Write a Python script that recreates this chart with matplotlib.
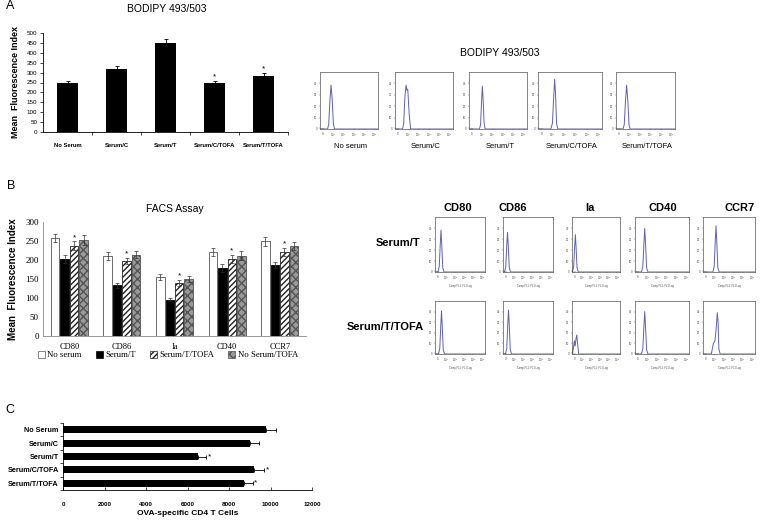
import matplotlib.pyplot as plt
from matplotlib.patches import Patch

plt.rcParams['font.family'] = ['Liberation Sans', 'DejaVu Sans']

W, H = 761, 520
fig = plt.figure(figsize=(W / 100, H / 100), dpi=100)


def box(l, t, r, b):
    return [l / W, 1 - b / H, (r - l) / W, (b - t) / H]


def ftxt(x, y, s, **kw):
    fig.text(x / W, 1 - y / H, s, **kw)


# ---- data ----
a_groups = ['No Serum', 'Serum/C', 'Serum/T', 'Serum/C/TOFA', 'Serum/T/TOFA']
a_mfi = [250, 320, 450, 245, 285]
a_err = [10, 15, 20, 12, 12]
a_star = [0, 0, 0, 1, 1]

a_hist_names = ['No serum', 'Serum/C', 'Serum/T', 'Serum/C/TOFA', 'Serum/T/TOFA']
a_hist_x = [
    [0, 0.13, 0.15, 0.17, 0.19, 0.21, 0.23, 0.25, 1],
    [0, 0.13, 0.15, 0.17, 0.19, 0.205, 0.22, 0.245, 0.27, 1],
    [0, 0.18, 0.20, 0.215, 0.23, 0.245, 0.26, 0.28, 1],
    [0, 0.20, 0.225, 0.245, 0.26, 0.275, 0.29, 0.31, 1],
    [0, 0.12, 0.14, 0.16, 0.18, 0.20, 0.22, 0.24, 1],
]
a_hist_y = [
    [0, 0, 0.08, 0.48, 0.77, 0.52, 0.1, 0, 0],
    [0, 0, 0.1, 0.55, 0.77, 0.68, 0.7, 0.25, 0, 0],
    [0, 0, 0.08, 0.45, 0.75, 0.5, 0.1, 0, 0],
    [0, 0, 0.1, 0.55, 0.87, 0.6, 0.1, 0, 0],
    [0, 0, 0.08, 0.48, 0.77, 0.5, 0.08, 0, 0],
]

b_markers = ['CD80', 'CD86', 'Ia', 'CD40', 'CCR7']
b_series = ['No serum', 'Serum/T', 'Serum/T/TOFA', 'No Serum/TOFA']
b_mfi = [
    [258, 210, 156, 221, 249],
    [203, 133, 96, 179, 188],
    [237, 197, 140, 203, 221],
    [252, 214, 151, 211, 237],
]
b_err = [
    [10, 10, 8, 10, 12],
    [10, 7, 5, 10, 8],
    [12, 8, 8, 10, 10],
    [13, 10, 8, 12, 10],
]
b_star = [0, 0, 1, 0]

b_rows = ['Serum/T', 'Serum/T/TOFA']
b_hist_x = [
    [[0, 0.06, 0.085, 0.105, 0.12, 0.135, 0.155, 0.18, 1],
     [0, 0.03, 0.055, 0.075, 0.09, 0.105, 0.125, 0.15, 1],
     [0, 0.01, 0.035, 0.055, 0.07, 0.085, 0.105, 0.13, 1],
     [0, 0.12, 0.145, 0.165, 0.18, 0.195, 0.215, 0.24, 1],
     [0, 0.19, 0.215, 0.235, 0.25, 0.265, 0.285, 0.31, 1]],
    [[0, 0.07, 0.095, 0.115, 0.13, 0.145, 0.165, 0.19, 1],
     [0, 0.05, 0.075, 0.095, 0.11, 0.125, 0.145, 0.17, 1],
     [0, 0.01, 0.03, 0.05, 0.065, 0.085, 0.1, 0.115, 0.14, 1],
     [0, 0.12, 0.145, 0.165, 0.18, 0.195, 0.215, 0.24, 1],
     [0, 0.16, 0.2, 0.23, 0.255, 0.275, 0.29, 0.305, 0.33, 1]],
]
b_hist_y = [
    [[0, 0, 0.1, 0.5, 0.76, 0.5, 0.08, 0, 0],
     [0, 0, 0.1, 0.48, 0.72, 0.48, 0.08, 0, 0],
     [0, 0, 0.1, 0.45, 0.68, 0.45, 0.08, 0, 0],
     [0, 0, 0.1, 0.52, 0.79, 0.52, 0.08, 0, 0],
     [0, 0, 0.1, 0.55, 0.84, 0.55, 0.08, 0, 0]],
    [[0, 0, 0.1, 0.52, 0.81, 0.52, 0.08, 0, 0],
     [0, 0, 0.1, 0.55, 0.83, 0.55, 0.08, 0, 0],
     [0, 0, 0.12, 0.25, 0.15, 0.3, 0.36, 0.2, 0, 0],
     [0, 0, 0.1, 0.52, 0.8, 0.52, 0.08, 0, 0],
     [0, 0, 0.2, 0.25, 0.5, 0.78, 0.6, 0.1, 0, 0]],
]

c_groups = ['No Serum', 'Serum/C', 'Serum/T', 'Serum/C/TOFA', 'Serum/T/TOFA']
c_cells = [9800, 9000, 6500, 9200, 8700]
c_err = [450, 450, 400, 500, 450]
c_star = [0, 0, 1, 1, 1]

hist_ticks = [0.05, 0.22, 0.4, 0.58, 0.76, 0.94]
hist_tlabels = ['0', '10$^1$', '10$^2$', '10$^3$', '10$^4$', '10$^5$']


def draw_hist(rect, xs, ys, xlabel=None):
    ax = fig.add_axes(rect)
    ax.plot(xs, ys, color='#6060b0', lw=0.7)
    ax.plot([0.01, 0.06], [0.005, 0.005], color='black', lw=1.0)
    ax.set_xlim(0, 1)
    ax.set_ylim(0, 1)
    ax.set_xticks(hist_ticks)
    ax.set_xticklabels(hist_tlabels)
    ax.set_yticks([0.01, 0.2, 0.4, 0.6, 0.8])
    ax.set_yticklabels(['0', '10', '20', '30', '40'])
    ax.tick_params(labelsize=2, length=1, width=0.3, pad=1, colors='#444444')
    for s in ax.spines.values():
        s.set_linewidth(0.5)
        s.set_color('#555555')
    if xlabel:
        ax.set_xlabel(xlabel, fontsize=1.8, labelpad=1, color='#444444')
    return ax


# ---- A: bar chart ----
ax = fig.add_axes(box(43, 33, 288, 132))
pos = range(len(a_groups))
ax.bar(pos, a_mfi, width=0.43, color='black')
ax.errorbar(pos, a_mfi, yerr=[[0] * 5, a_err], fmt='none', ecolor='black',
            elinewidth=0.6, capsize=1.5, capthick=0.6)
for i, s in enumerate(a_star):
    if s:
        ax.text(i, a_mfi[i] + a_err[i] + 2, '*', ha='center', va='bottom', fontsize=6)
ax.set_xlim(-0.5, 4.5)
ax.set_ylim(0, 500)
ax.set_yticks(range(0, 501, 50))
ax.set_xticks(list(pos))
ax.set_xticklabels(a_groups, fontsize=4.2, fontweight='bold')
ax.set_xticks([i + 0.5 for i in range(5)], minor=True)
ax.tick_params(axis='x', which='major', length=0, pad=8)
ax.tick_params(axis='x', which='minor', length=2, width=0.5)
ax.tick_params(axis='y', labelsize=4.5, length=2, width=0.5, pad=2)
for s in ['top', 'right']:
    ax.spines[s].set_visible(False)
for s in ['left', 'bottom']:
    ax.spines[s].set_linewidth(0.6)
ax.set_ylabel('Mean  Fluorescence Index', fontsize=6.5, fontweight='bold', labelpad=5)
ftxt(167, 9, 'BODIPY 493/503', fontsize=7.5, ha='center', va='center')
ftxt(6, 6, 'A', fontsize=9, va='center')

# ---- A: histograms ----
ftxt(500, 53, 'BODIPY 493/503', fontsize=7.5, ha='center', va='center')
a_boxes = [(320, 378), (395, 453), (469, 527), (538, 602), (616, 675)]
for k, (l, r) in enumerate(a_boxes):
    draw_hist(box(l, 72, r, 129), a_hist_x[k], a_hist_y[k])
    ftxt((l + r) / 2 + 2, 147, a_hist_names[k], fontsize=5.5, ha='center', va='center')

# ---- B: grouped bars ----
ax = fig.add_axes(box(43, 222, 306, 336))
faces = ['white', 'black', 'white', '#9a9a9a']
hatches = [None, None, '//////', 'xxxx']
edges = ['#555555', 'black', '#222222', '#555555']
offs = [-0.27, -0.09, 0.09, 0.27]
for j in range(4):
    xs = [i + offs[j] for i in range(5)]
    ax.bar(xs, b_mfi[j], width=0.16, color=faces[j], hatch=hatches[j],
           edgecolor=edges[j], linewidth=0.6, label=b_series[j])
    ax.errorbar(xs, b_mfi[j], yerr=b_err[j], fmt='none', ecolor='#333333',
                elinewidth=0.5, capsize=1.5, capthick=0.5)
    if b_star[j]:
        for i, x in enumerate(xs):
            ax.text(x, b_mfi[j][i] + b_err[j][i] + 1, '*', ha='center', va='bottom',
                    fontsize=6)
ax.set_xlim(-0.5, 4.5)
ax.set_ylim(0, 300)
ax.set_yticks(range(0, 301, 50))
ax.set_xticks(range(5))
ax.set_xticklabels(b_markers, family='Liberation Serif', fontsize=6)
ax.tick_params(axis='x', length=0, pad=5)
ax.tick_params(axis='y', length=0, pad=3)
for lab in ax.get_yticklabels():
    lab.set_family('Liberation Serif')
    lab.set_fontsize(6.5)
for s in ['top', 'right']:
    ax.spines[s].set_visible(False)
ax.spines['left'].set_linewidth(0.6)
ax.spines['left'].set_color('#888888')
ax.spines['bottom'].set_linewidth(0.6)
ax.spines['bottom'].set_color('#888888')
ax.set_ylabel('Mean  Fluorescence Index', fontsize=7, fontweight='bold', labelpad=5)
ftxt(175, 209, 'FACS Assay', fontsize=7.5, ha='center', va='center')
handles = [Patch(facecolor=faces[j], hatch=hatches[j], edgecolor=edges[j],
                 linewidth=0.5) for j in range(4)]
fig.legend(handles, b_series, loc='center', bbox_to_anchor=(168 / W, 1 - 355 / H),
           ncol=4, frameon=False, prop={'family': 'Liberation Serif', 'size': 6.3},
           handlelength=0.8, handleheight=0.8, handletextpad=0.3, columnspacing=1.6)
ftxt(7, 186, 'B', fontsize=9, va='center')

# ---- B: histograms ----
col_l = [435, 503, 572, 635, 703]
col_r = [485, 553, 620, 689, 755]
col_head_x = [458, 513, 590, 663, 740]
for i in range(5):
    ftxt(col_head_x[i], 208, b_markers[i], fontsize=8, fontweight='bold',
         ha='center', va='center')
row_t = [217, 301]
row_b = [272, 354]
row_lab_x = [398, 385]
row_lab_y = [243, 327]
for r in range(2):
    ftxt(row_lab_x[r], row_lab_y[r], b_rows[r], fontsize=8, fontweight='bold',
         ha='center', va='center')
    for i in range(5):
        draw_hist(box(col_l[i], row_t[r], col_r[i], row_b[r]),
                  b_hist_x[r][i], b_hist_y[r][i], xlabel='Comp-FL1: FL1 Log')

# ---- C: horizontal bars ----
ax = fig.add_axes(box(63, 423, 312, 490))
ypos = range(len(c_groups))
ax.barh(ypos, c_cells, height=0.52, color='black')
ax.errorbar(c_cells, ypos, xerr=[[0] * 5, c_err], fmt='none', ecolor='black',
            elinewidth=0.6, capsize=1.5, capthick=0.6)
for i, s in enumerate(c_star):
    if s:
        ax.text(c_cells[i] + c_err[i] + 60, i, '*', ha='left', va='center', fontsize=6)
ax.set_ylim(4.5, -0.5)
ax.set_xlim(0, 12000)
ax.set_xticks(range(0, 12001, 2000))
ax.set_yticks(list(ypos))
ax.set_yticklabels(c_groups, fontsize=5.2, fontweight='bold')
ax.set_yticks([i + 0.5 for i in range(-1, 5)], minor=True)
ax.tick_params(axis='y', which='major', length=0, pad=3)
ax.tick_params(axis='y', which='minor', length=2, width=0.5)
ax.tick_params(axis='x', labelsize=4.5, length=2, width=0.5, direction='in', pad=9)
for lab in ax.get_xticklabels():
    lab.set_fontweight('bold')
for s in ['top', 'right']:
    ax.spines[s].set_visible(False)
for s in ['left', 'bottom']:
    ax.spines[s].set_linewidth(0.6)
ax.set_xlabel('OVA-specific CD4 T Cells', fontsize=6, fontweight='bold', labelpad=2)
ftxt(5, 410, 'C', fontsize=9, va='center')

fig.savefig('out.png', dpi=100)
